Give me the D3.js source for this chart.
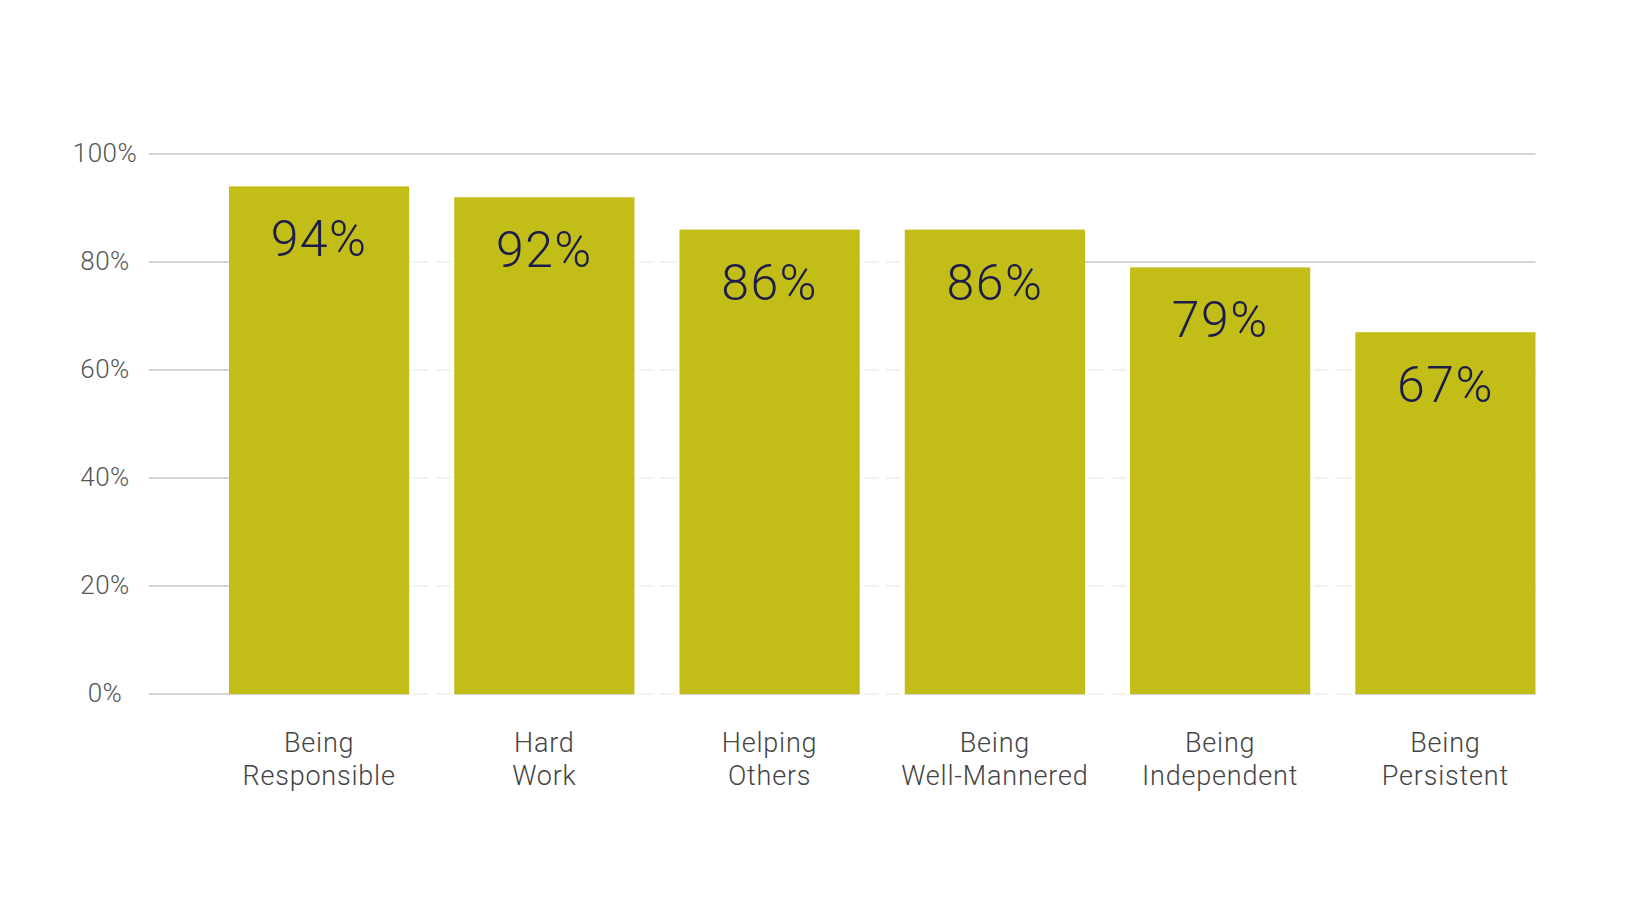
<!DOCTYPE html>
<html>
<head>
<meta charset="utf-8">
<script src="https://cdn.jsdelivr.net/npm/d3@7"></script>
<style>
  html, body { margin: 0; padding: 0; background: #ffffff; }
  svg { display: block; }
  text { font-family: "Roboto", "Liberation Sans", sans-serif; }
</style>
</head>
<body>
<svg id="chart" width="1640" height="924"></svg>
<script>
// Share of respondents naming each quality
const categories = [
  ["Being", "Responsible"],
  ["Hard", "Work"],
  ["Helping", "Others"],
  ["Being", "Well-Mannered"],
  ["Being", "Independent"],
  ["Being", "Persistent"]
];
const values = [94, 92, 86, 86, 79, 67];
const yTicks = [0, 20, 40, 60, 80, 100];
const yTickLabels = ["0%", "20%", "40%", "60%", "80%", "100%"];

const svg = d3.select("#chart");

const gridLeft = 149;
const plotRight = 1535.5;

const x = d3.scaleBand()
  .domain(d3.range(values.length))
  .range([229, plotRight])
  .paddingInner(0.2)
  .paddingOuter(0);

const y = d3.scaleLinear()
  .domain([0, 100])
  .range([694, 154]);

const bw = x.bandwidth();

// Gridlines
const grid = svg.append("g").attr("class", "grid");
yTicks.forEach(t => {
  grid.append("line")
    .attr("x1", gridLeft).attr("x2", plotRight)
    .attr("y1", y(t)).attr("y2", y(t))
    .attr("stroke", "#c9c5c5")
    .attr("stroke-width", 1.5);
  // between two bars that both rise past the line, it fades out
  for (let i = 0; i < values.length - 1; i++) {
    if (values[i] >= t && values[i + 1] >= t) {
      const gx0 = x(i) + bw, gx1 = x(i + 1);
      grid.append("line")
        .attr("x1", gx0).attr("x2", gx1)
        .attr("y1", y(t)).attr("y2", y(t))
        .attr("stroke", "#ffffff")
        .attr("stroke-width", 3);
      grid.append("line")
        .attr("x1", gx0 + 4).attr("x2", gx1 - 4)
        .attr("y1", y(t)).attr("y2", y(t))
        .attr("stroke", "#eeecec")
        .attr("stroke-width", 1.5)
        .attr("stroke-dasharray", "15,7");
    }
  }
});

// Y axis labels
svg.append("g")
  .selectAll("text")
  .data(yTicks)
  .join("text")
  .attr("x", 105)
  .attr("y", d => y(d))
  .attr("dy", "0.3em")
  .attr("text-anchor", "middle")
  .attr("font-size", 26)
  .attr("font-weight", 300)
  .attr("letter-spacing", 0.5)
  .attr("fill", "#555555")
  .text((d, i) => yTickLabels[i]);

// Bars
svg.append("g")
  .selectAll("rect")
  .data(values)
  .join("rect")
  .attr("x", (d, i) => x(i))
  .attr("y", d => y(d))
  .attr("width", bw)
  .attr("height", d => y(0) - y(d))
  .attr("fill", "#c2bd17");

// Value labels inside bars
svg.append("g")
  .selectAll("text")
  .data(values)
  .join("text")
  .attr("x", (d, i) => x(i) + bw / 2)
  .attr("y", d => y(d) + 70)
  .attr("text-anchor", "middle")
  .attr("font-size", 50)
  .attr("font-weight", 300)
  .attr("letter-spacing", 1.5)
  .attr("fill", "#1b1c4b")
  .text(d => d + "%");

// Category labels (two lines each)
const cat = svg.append("g")
  .selectAll("text")
  .data(categories)
  .join("text")
  .attr("text-anchor", "middle")
  .attr("font-size", 27)
  .attr("font-weight", 300)
  .attr("letter-spacing", 0.8)
  .attr("fill", "#444444");

cat.each(function(lines, i) {
  const t = d3.select(this);
  lines.forEach((ln, j) => {
    t.append("tspan")
      .attr("x", x(i) + bw / 2)
      .attr("y", 752 + j * 33)
      .text(ln);
  });
});
</script>
</body>
</html>
